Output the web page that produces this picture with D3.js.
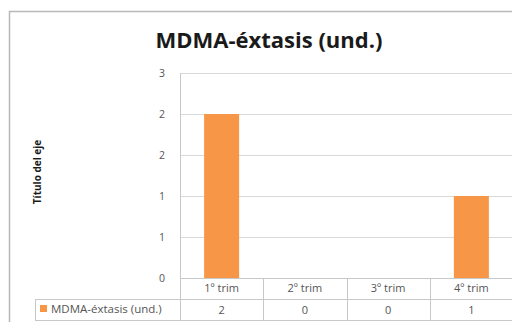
<!DOCTYPE html>
<html><head><meta charset="utf-8">
<script src="https://cdn.jsdelivr.net/npm/d3@7"></script>
<style>body{margin:0;background:#fff}svg{display:block}text{font-family:"Open Sans",Calibri,sans-serif}</style>
</head><body><svg id="c" width="512" height="322"></svg>
<script>
const categories = ["1º trim","2º trim","3º trim","4º trim"];
const seriesName = "MDMA-éxtasis (und.)";
const values = [2,0,0,1];
const yTicks = [0,0.5,1,1.5,2,2.5];
const title = "MDMA-éxtasis (und.)";
const yTitle = "Título del eje";

const svg = d3.select("#c");
// chart frame
svg.append("rect").attr("x",9.5).attr("y",11.5).attr("width",520).attr("height",330)
  .attr("fill","#fff").attr("stroke","#b8b8b8").attr("stroke-width",1.5);

const x0 = 180, x1 = 513, yTop = 73, yBot = 278;
const x = d3.scaleBand().domain(categories).range([x0,x1]).paddingInner(0).paddingOuter(0);
const y = d3.scaleLinear().domain([0,2.5]).range([yBot,yTop]);

svg.append("text").attr("x",269).attr("y",48).attr("text-anchor","middle")
  .attr("font-size",22).attr("font-weight","bold").attr("fill","#1a1a1a").text(title);

// gridlines
svg.append("g").selectAll("line").data(yTicks).join("line")
  .attr("x1",x0).attr("x2",x1).attr("y1",d=>Math.round(y(d))+0.5).attr("y2",d=>Math.round(y(d))+0.5)
  .attr("stroke","#d9d9d9").attr("stroke-width",1.2);

// y axis tick labels
svg.append("g").selectAll("text").data(yTicks).join("text")
  .attr("x",165).attr("y",d=>y(d)+4).attr("text-anchor","end")
  .attr("font-size",10.5).attr("fill","#555").text(d=>d3.format(".0f")(d));

// y axis line
svg.append("line").attr("x1",x0+0.5).attr("x2",x0+0.5).attr("y1",yTop).attr("y2",321)
  .attr("stroke","#c8c8c8");

// bars
const bw = 35;
svg.append("g").selectAll("rect").data(values).join("rect")
  .attr("x",(d,i)=>x(categories[i])+x.bandwidth()/2-bw/2)
  .attr("y",d=>y(d)).attr("width",bw).attr("height",d=>y(0)-y(d))
  .attr("fill","#f79646");

// y title
svg.append("text").attr("transform","translate(41,172) rotate(-90)").attr("text-anchor","middle")
  .attr("font-size",10).attr("font-weight","bold").attr("fill","#1a1a1a").text(yTitle);

// data table
const rowTop = 299, rowBot = 320;
const tg = svg.append("g").attr("stroke","#c8c8c8").attr("stroke-width",1);
tg.append("line").attr("x1",x0).attr("x2",x1).attr("y1",yBot+0.5).attr("y2",yBot+0.5);
tg.append("line").attr("x1",35).attr("x2",x1).attr("y1",rowTop+0.5).attr("y2",rowTop+0.5);
tg.append("line").attr("x1",35).attr("x2",x1).attr("y1",rowBot+0.5).attr("y2",rowBot+0.5);
tg.append("line").attr("x1",35.5).attr("x2",35.5).attr("y1",rowTop).attr("y2",rowBot);
tg.selectAll("line.v").data(categories).join("line").attr("class","v")
  .attr("x1",d=>Math.round(x(d)+x.bandwidth())+0.5).attr("x2",d=>Math.round(x(d)+x.bandwidth())+0.5)
  .attr("y1",yBot).attr("y2",rowBot);

svg.append("g").selectAll("text").data(categories).join("text")
  .attr("x",d=>x(d)+x.bandwidth()/2).attr("y",292).attr("text-anchor","middle")
  .attr("font-size",11).attr("fill","#555").text(d=>d);
svg.append("g").selectAll("text").data(values).join("text")
  .attr("x",(d,i)=>x(categories[i])+x.bandwidth()/2).attr("y",314).attr("text-anchor","middle")
  .attr("font-size",11).attr("fill","#555").text(d=>d);

svg.append("rect").attr("x",40).attr("y",305).attr("width",7).attr("height",7).attr("fill","#f79646");
svg.append("text").attr("x",51).attr("y",313).attr("font-size",11.5).attr("fill","#555").text(seriesName);
</script></body></html>
